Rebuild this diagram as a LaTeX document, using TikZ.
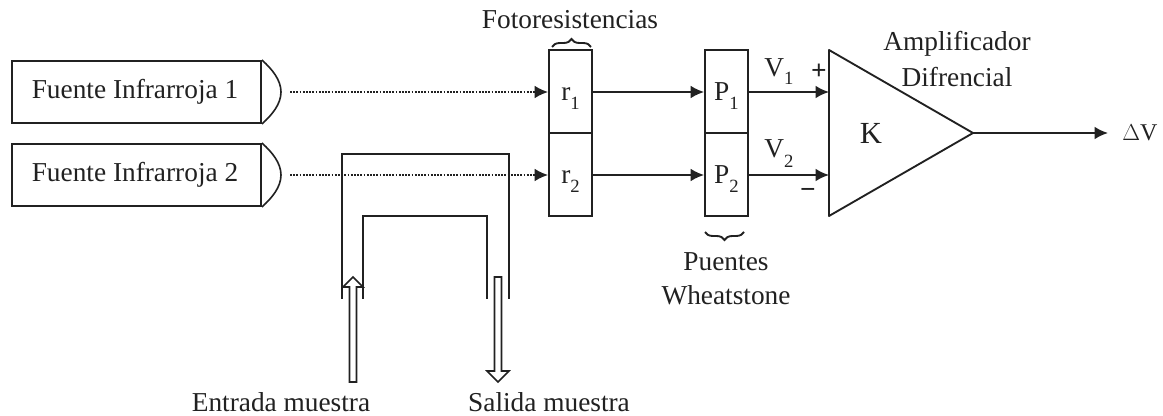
\documentclass[tikz,border=0pt]{standalone}
\usepackage{fontspec}
\setmainfont{Liberation Serif}
\usetikzlibrary{arrows.meta,decorations.pathreplacing,calc}
\definecolor{ink}{gray}{0.13}
\newcommand{\lowsub}[2]{\raisebox{#1}{\fontsize{14pt}{14pt}\selectfont #2}}
\newcommand{\celltxt}[2]{\smash{\raisebox{-6.4pt}{#1\lowsub{-7pt}{#2}}}}
\tikzset{
  x=0.75pt,y=-0.75pt,
  every node/.style={font=\fontsize{20.5pt}{24pt}\selectfont,text=ink,inner sep=0pt},
  line/.style={draw=ink,line width=1.4pt},
  thin line/.style={draw=ink,line width=1.2pt},
  conn/.style={line,-{Latex[length=10pt,width=9.5pt]}},
  beam/.style={draw=ink,line width=1.4pt,densely dotted,-{Latex[length=10pt,width=9.5pt,color=ink]}},
  source/.style={line,minimum width=186.75pt,minimum height=46.5pt},
  cell/.style={line,minimum width=32.25pt,minimum height=62.25pt},
  lab/.style={align=center},
  hollow/.style={thin line,fill=white,line join=miter},
}
\begin{document}
\begin{tikzpicture}
\useasboundingbox[fill=white] (0,0) rectangle (1163,416);
% sources
\node[source] (s1) at (136.5,92) {};
\node[source] (s2) at (136.5,175) {};
\node[lab] (t1) at (135,92) {Fuente Infrarroja 1};
\node[lab] (t2) at (135,175) {Fuente Infrarroja 2};
\draw[thin line] (s1.north east) .. controls (272,69) and (281,80) .. (281,92) .. controls (281,104) and (272,115) .. (s1.south east);
\draw[thin line] (s2.north east) .. controls (272,152) and (281,163) .. (281,175) .. controls (281,187) and (272,198) .. (s2.south east);
% cells
\node[cell] (r1) at (570.5,91.5) {\celltxt{r}{1}};
\node[cell] (r2) at (570.5,174.5) {\celltxt{r}{2}};
\node[cell] (p1) at (726.5,91.5) {\celltxt{P}{1}};
\node[cell] (p2) at (726.5,174.5) {\celltxt{P}{2}};
% amplifier
\coordinate (a1) at (829,92);
\coordinate (a2) at (829,175);
\coordinate (atip) at (973,133);
\draw[line,line join=round] (829,50) -- (atip) -- (829,216) -- cycle;
\node (k) at (871,133) {\fontsize{23pt}{23pt}\selectfont K};
% sample channel
\draw[thin line] (342,299) -- (342,154) -- (509,154) -- (509,299);
\draw[thin line] (363,299) -- (363,216) -- (487,216) -- (487,299);
% beams and signal lines
\coordinate (b1) at (290,92);
\coordinate (b2) at (290,175);
\draw[beam] (b1) -- (r1.west |- b1);
\draw[beam] (b2) -- (r2.west |- b2);
\draw[conn] (r1.east |- b1) -- (p1.west |- b1);
\draw[conn] (r2.east |- b2) -- (p2.west |- b2);
\draw[conn] (p1.east |- b1) -- (a1);
\draw[conn] (p2.east |- b2) -- (a2);
\coordinate (out) at (1108,133);
\draw[conn] (atip) -- (out);
\node[anchor=west] (dv) at (1122,133) {\fontsize{18pt}{18pt}\selectfont $\Delta$V};
% hollow arrows
\draw[hollow] (349.5,382) -- (356.5,382) -- (356.5,287) -- (363,287) -- (353,277) -- (343,287) -- (349.5,287) -- cycle;
\draw[hollow] (494.5,277) -- (501.5,277) -- (501.5,371) -- (509,371) -- (498,382) -- (487,371) -- (494.5,371) -- cycle;
% labels
\node[lab] (fr) at (570,20) {Fotoresistencias};
\draw[line,decorate,decoration={brace,amplitude=6pt}] (552,47) -- (591,47);
\node[lab] (pw1) at (726,262) {Puentes};
\node[lab] (pw2) at (726,295) {Wheatstone};
\draw[line,decorate,decoration={brace,amplitude=6pt,mirror}] (705,232) -- (744,232);
\node[lab] (am1) at (957,44) {Amplificador};
\node[lab] (am2) at (957,77) {Difrencial};
\node[anchor=west] (v1) at (764,71.5) {V\lowsub{-6.5pt}{1}};
\node[anchor=west] (v2) at (764,153.5) {V\lowsub{-7.5pt}{2}};
\node (plus) at (819,72) {\bfseries +};
\node (minus) at (808,193) {\bfseries −};
\node[lab] (em) at (281,402) {Entrada muestra};
\node[lab] (sm) at (549,402) {Salida muestra};
\end{tikzpicture}
\end{document}
